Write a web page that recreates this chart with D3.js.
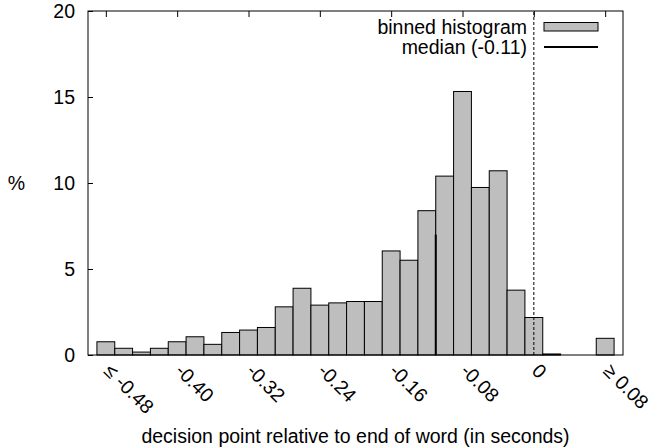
<!DOCTYPE html>
<html>
<head>
<meta charset="utf-8">
<script src="https://cdn.jsdelivr.net/npm/d3@7"></script>
<style>
  body { margin: 0; background: #fff; }
  text { font-family: "Liberation Sans", Arial, sans-serif; fill: #000; }
</style>
</head>
<body>
<div class="chart"></div>
<script>
// bin centres (seconds) and share of decisions per bin (%)
const binCenters = [-0.48, -0.46, -0.44, -0.42, -0.40, -0.38, -0.36, -0.34, -0.32, -0.30,
                    -0.28, -0.26, -0.24, -0.22, -0.20, -0.18, -0.16, -0.14, -0.12, -0.10,
                    -0.08, -0.06, -0.04, -0.02, 0.00, 0.02, 0.04, 0.06, 0.08];
const percents = [0.77, 0.39, 0.17, 0.39, 0.77, 1.06, 0.62, 1.31, 1.45, 1.60,
                  2.80, 3.88, 2.90, 3.03, 3.11, 3.11, 6.05, 5.51, 8.39, 10.40,
                  15.32, 9.74, 10.71, 3.77, 2.18, 0.06, 0, 0, 0.97];
const binWidth = 0.02;
const medianValue = -0.11;
const medianHeight = 7;
const xTickValues = [-0.48, -0.40, -0.32, -0.24, -0.16, -0.08, 0, 0.08];
const xTickLabels = ['≤ -0.48', '-0.40', '-0.32', '-0.24', '-0.16', '-0.08', '0', '≥ 0.08'];
const yTickValues = [0, 5, 10, 15, 20];
const legendLabels = ['binned histogram', 'median (-0.11)'];

const width = 650, height = 448;
const margin = {top: 11, right: 27, bottom: 93, left: 88};
const fontSize = 19.5;

const svg = d3.select('.chart')
    .append('svg')
    .attr('width', width)
    .attr('height', height);

const x = d3.scaleLinear().domain([-0.5, 0.1]).range([margin.left, width - margin.right]);
const y = d3.scaleLinear().domain([0, 20]).range([height - margin.bottom, margin.top]);

// bars
const data = binCenters.map((c, i) => ({c, v: percents[i]}));
svg.append('g')
    .selectAll('rect')
    .data(data.filter(d => d.v > 0))
    .join('rect')
    .attr('x', d => x(d.c - binWidth / 2))
    .attr('width', d => x(d.c + binWidth / 2) - x(d.c - binWidth / 2))
    .attr('y', d => y(d.v))
    .attr('height', d => y(0) - y(d.v))
    .attr('fill', '#bebebe')
    .attr('stroke', '#000')
    .attr('stroke-width', 1);

// median line
svg.append('line')
    .attr('x1', x(medianValue)).attr('x2', x(medianValue))
    .attr('y1', y(0)).attr('y2', y(medianHeight))
    .attr('stroke', '#000')
    .attr('stroke-width', 2);

// dashed zero line
svg.append('line')
    .attr('x1', x(0)).attr('x2', x(0))
    .attr('y1', y(0)).attr('y2', y(20))
    .attr('stroke', '#000')
    .attr('stroke-width', 1)
    .attr('stroke-dasharray', '3,2');

// frame
svg.append('rect')
    .attr('x', x(-0.5)).attr('y', y(20))
    .attr('width', x(0.1) - x(-0.5)).attr('height', y(0) - y(20))
    .attr('fill', 'none')
    .attr('stroke', '#000')
    .attr('stroke-width', 1);

// y axis: inward ticks, labels on the left
const yAxis = d3.axisLeft(y).tickValues(yTickValues).tickSize(-5).tickPadding(13).tickFormat(d3.format('d'));
svg.append('g')
    .attr('transform', `translate(${margin.left},0)`)
    .call(yAxis)
    .call(g => g.select('.domain').remove())
    .call(g => g.selectAll('text').attr('font-size', fontSize).attr('font-family', null));

// top mirror ticks
const xTop = d3.axisTop(x).tickValues(xTickValues).tickSize(-6).tickFormat('');
svg.append('g')
    .attr('transform', `translate(0,${margin.top})`)
    .call(xTop)
    .call(g => g.select('.domain').remove());

// bottom tick labels, rotated
svg.append('g')
    .selectAll('text')
    .data(xTickValues)
    .join('text')
    .attr('transform', d => `translate(${x(d) - 3},${y(0) + 17}) rotate(45)`)
    .attr('font-size', fontSize)
    .text((d, i) => xTickLabels[i]);

// axis titles
svg.append('text')
    .attr('x', (x(-0.5) + x(0.1)) / 2)
    .attr('y', 443)
    .attr('text-anchor', 'middle')
    .attr('font-size', fontSize)
    .text('decision point relative to end of word (in seconds)');

svg.append('text')
    .attr('x', 16.5)
    .attr('y', y(10))
    .attr('dy', '0.35em')
    .attr('text-anchor', 'middle')
    .attr('font-size', fontSize)
    .text('%');

// legend
const legend = svg.append('g');
legend.selectAll('text')
    .data(legendLabels)
    .join('text')
    .attr('x', 527)
    .attr('y', (d, i) => 27 + i * 20)
    .attr('dy', '0.35em')
    .attr('text-anchor', 'end')
    .attr('font-size', fontSize)
    .text(d => d);
legend.append('rect')
    .attr('x', 544).attr('y', 22.5)
    .attr('width', 54).attr('height', 8.5)
    .attr('fill', '#bebebe')
    .attr('stroke', '#000');
legend.append('line')
    .attr('x1', 544).attr('x2', 598)
    .attr('y1', 47).attr('y2', 47)
    .attr('stroke', '#000')
    .attr('stroke-width', 2);
</script>
</body>
</html>
